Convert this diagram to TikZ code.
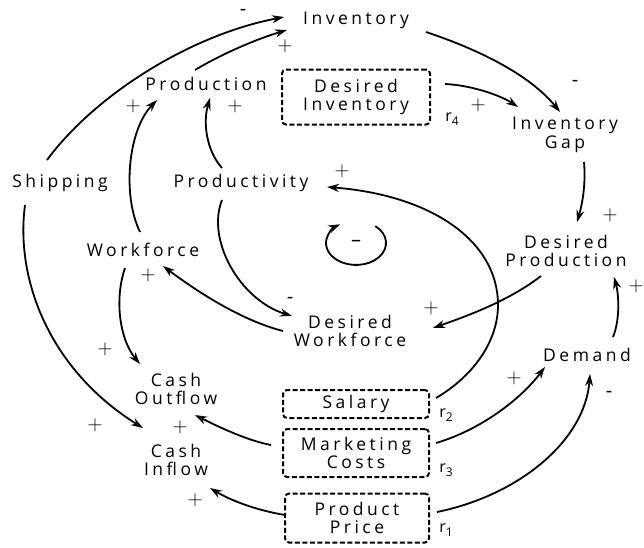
\documentclass[tikz,border=0pt]{standalone}
\usepackage{fontspec}
\setmainfont{Open Sans}[LetterSpace=20]
\usetikzlibrary{arrows.meta}
\begin{document}
\begin{tikzpicture}[x=1pt,y=-1pt,
  lbl/.style={font=\fontsize{17.5}{18.5}\selectfont, align=center, inner sep=0pt},
  dbox/.style={lbl, draw, dash pattern=on 5pt off 2.5pt, line width=2pt, rounded corners=4pt},
  arr/.style={line width=1.8pt, -{Stealth[length=12pt,width=8pt]}},
  sgn/.style={font=\fontsize{20}{20}\selectfont, inner sep=0pt},
  rl/.style={font=\fontsize{16}{16}\selectfont, inner sep=0pt}]
\useasboundingbox (0,0) rectangle (644,547);
% nodes
\node[lbl] (inv) at (356,20) {Inventory};
\node[lbl] (prod) at (206,84) {Production};
\node[dbox, minimum width=148pt, minimum height=55pt] (dinv) at (356,97) {Desired\\Inventory};
\node[lbl] (gap) at (565,135) {Inventory\\Gap};
\node[lbl] (ship) at (60,183) {Shipping};
\node[lbl] (pty) at (241,183) {Productivity};
\node[lbl] (wf) at (143,250) {Workforce};
\node[lbl] (dwf) at (350,331) {Desired\\Workforce};
\node[lbl] (dprod) at (566,251) {Desired\\Production};
\node[lbl] (dem) at (587,355) {Demand};
\node[lbl] (cout) at (176,389) {Cash\\Outflow};
\node[lbl] (cin) at (176,460) {Cash\\Inflow};
\node[dbox, minimum width=146pt, minimum height=28pt] (sal) at (356,404) {Salary};
\node[dbox, minimum width=146pt, minimum height=48pt] (mkt) at (356,453) {Marketing\\Costs};
\node[dbox, minimum width=144pt, minimum height=49pt] (price) at (357,518) {Product\\Price};
% connectors
\draw[arr] ([shift={(-13,-23)}]ship.center) .. controls (95,95) and (190,35) .. ([shift={(-72,-3)}]inv.center);
\draw[arr] ([shift={(-11,-14)}]prod.center) .. controls (225,52) and (260,38) .. ([shift={(-69,10)}]inv.center);
\draw[arr] ([shift={(-3,-18)}]wf.center) .. controls (122,195) and (128,130) .. ([shift={(-49,16)}]prod.center);
\draw[arr] ([shift={(-19,-15)}]pty.center) .. controls (206,150) and (203,122) .. ([shift={(4,14)}]prod.center);
\draw[arr] ([shift={(89,-13)}]dinv.center) .. controls (470,85) and (500,95) .. ([shift={(-47,-28)}]gap.center);
\draw[arr] ([shift={(70,12)}]inv.center) .. controls (480,50) and (530,75) .. ([shift={(-5,-23)}]gap.center);
\draw[arr] ([shift={(19,27)}]gap.center) .. controls (586,185) and (582,205) .. ([shift={(11,-29)}]dprod.center);
\draw[arr] ([shift={(26,-18)}]dem.center) .. controls (620,320) and (619,295) .. ([shift={(48,26)}]dprod.center);
\draw[arr] ([shift={(-25,25)}]dprod.center) .. controls (510,300) and (470,315) .. ([shift={(83,-3)}]dwf.center);
\draw[arr] ([shift={(80,-6)}]sal.center) .. controls (475,375) and (498,340) .. (498,305) .. controls (498,240) and (430,195) .. ([shift={(86,4)}]pty.center);
\draw[arr] ([shift={(-19,17)}]pty.center) .. controls (206,240) and (240,300) .. ([shift={(-58,-15)}]dwf.center);
\draw[arr] ([shift={(-67,0)}]dwf.center) .. controls (240,320) and (195,290) .. ([shift={(20,16)}]wf.center);
\draw[arr] ([shift={(-18,18)}]wf.center) .. controls (114,300) and (120,340) .. ([shift={(-36,-25)}]cout.center);
\draw[arr] ([shift={(-35,22)}]ship.center) .. controls (15,280) and (50,370) .. ([shift={(-33,-32)}]cin.center);
\draw[arr] ([shift={(-85,-8)}]mkt.center) .. controls (245,440) and (215,425) .. ([shift={(19,26)}]cout.center);
\draw[arr] ([shift={(-72,-3)}]price.center) .. controls (255,510) and (230,500) .. ([shift={(34,28)}]cin.center);
\draw[arr] ([shift={(80,-10)}]mkt.center) .. controls (480,430) and (520,400) .. ([shift={(-42,12)}]dem.center);
\draw[arr] ([shift={(80,-6)}]price.center) .. controls (520,495) and (585,440) .. ([shift={(3,19)}]dem.center);
% balancing loop
\coordinate (lc) at (356,243);
\draw[arr] ([shift={(19.3,-16.9)}]lc) arc[start angle=-50, end angle=238, x radius=30, y radius=22];
\node[sgn] (lm) at (lc) {–};
% signs
\node[sgn] at (243,12) {-};
\node[sgn] at (285,46) {$+$};
\node[sgn] at (133,106) {$+$};
\node[sgn] at (235,106) {$+$};
\node[sgn] at (478,105) {$+$};
\node[sgn] at (575,83) {-};
\node[sgn] at (342,171) {$+$};
\node[sgn] at (610,215) {$+$};
\node[sgn] at (636,286) {$+$};
\node[sgn] at (148,275) {$+$};
\node[sgn] at (290,300) {-};
\node[sgn] at (431,308) {$+$};
\node[sgn] at (105,349) {$+$};
\node[sgn] at (95,425) {$+$};
\node[sgn] at (180,427) {$+$};
\node[sgn] at (195,500) {$+$};
\node[sgn] at (514,378) {$+$};
\node[sgn] at (609,394) {-};
\node[rl] at (452,119) {r\raisebox{-4pt}{\fontsize{12}{12}\selectfont 4}};
\node[rl] at (446,415) {r\raisebox{-4pt}{\fontsize{12}{12}\selectfont 2}};
\node[rl] at (446,470) {r\raisebox{-4pt}{\fontsize{12}{12}\selectfont 3}};
\node[rl] at (446,530) {r\raisebox{-4pt}{\fontsize{12}{12}\selectfont 1}};
\end{tikzpicture}
\end{document}
